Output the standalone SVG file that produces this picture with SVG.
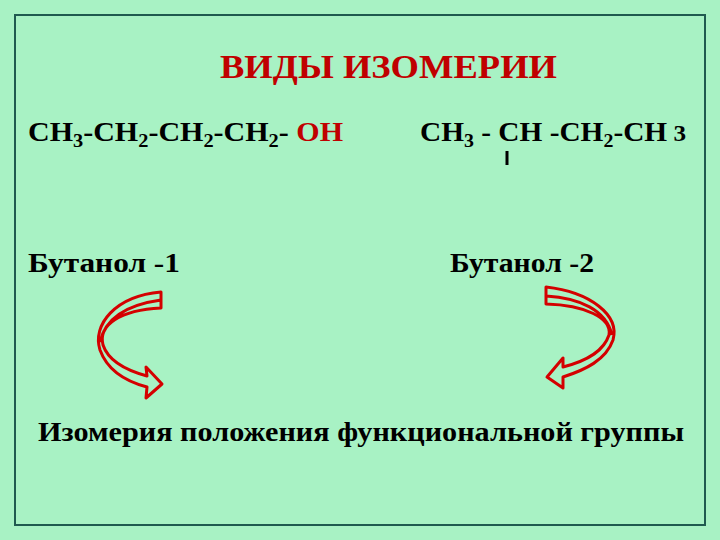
<svg xmlns="http://www.w3.org/2000/svg" width="720" height="540" viewBox="0 0 720 540">
<style>
.t{font-family:"Liberation Serif",serif;font-weight:bold;fill:#000}
.r{fill:#c00000}
.s{font-size:19px}
.arr{fill:none;stroke:#d40000;stroke-width:3;stroke-linejoin:round}
</style>
<rect width="720" height="540" fill="#a8f2c4"/>
<rect x="15" y="15" width="690" height="510" fill="none" stroke="#1f5a4f" stroke-width="2"/>
<g id="title"><text class="t r" x="220" y="78" font-size="33" textLength="337" lengthAdjust="spacingAndGlyphs">ВИДЫ  ИЗОМЕРИИ</text></g>
<g id="formula1"><text class="t" x="28" y="141" font-size="28" textLength="315" lengthAdjust="spacingAndGlyphs">CH<tspan class="s" dy="6">3</tspan><tspan dy="-6">-CH</tspan><tspan class="s" dy="6">2</tspan><tspan dy="-6">-CH</tspan><tspan class="s" dy="6">2</tspan><tspan dy="-6">-CH</tspan><tspan class="s" dy="6">2</tspan><tspan dy="-6">- </tspan><tspan class="r">OH</tspan></text></g>
<g id="formula2"><text class="t" x="420" y="141" font-size="28" textLength="266" lengthAdjust="spacingAndGlyphs">CH<tspan class="s" dy="6">3</tspan><tspan dy="-6"> - CH  -CH</tspan><tspan class="s" dy="6">2</tspan><tspan dy="-6">-CH</tspan><tspan font-size="24"> 3</tspan></text>
<line x1="507" y1="151" x2="507" y2="165" stroke="#000" stroke-width="3"/></g>
<g id="name1"><text class="t" x="28" y="272" font-size="28" textLength="152" lengthAdjust="spacingAndGlyphs">Бутанол -1</text></g>
<g id="name2"><text class="t" x="450" y="272" font-size="28" textLength="144" lengthAdjust="spacingAndGlyphs">Бутанол -2</text></g>
<g id="connectors">
<path class="arr" d="M161,292 C115,296 92,325 100,350 C108,372 128,382 147,387 L146,398 L162,384 L146,367 L147,376 C125,370 108,360 103,345 C98,325 120,310 161,308 Z M100,342 C105,320 125,305 161,300"/>
<path class="arr" d="M546,287 C590,292 620,315 613,340 C606,360 585,370 563,377 L563,388 L547,377 L563,358 L563,367 C590,360 604,350 609,335 C612,318 585,305 546,304 Z M612,335 C606,310 580,298 546,296"/>
</g>
<g id="caption"><text class="t" x="38" y="441" font-size="28" textLength="646" lengthAdjust="spacingAndGlyphs">Изомерия положения функциональной группы</text></g>
</svg>
